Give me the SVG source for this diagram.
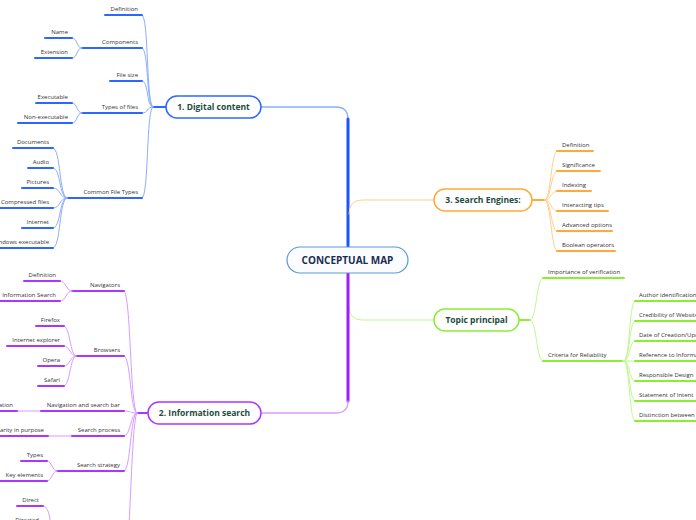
<svg xmlns="http://www.w3.org/2000/svg" width="696" height="520" viewBox="0 0 696 520">
<style>
.t{font-family:"Open Sans","Noto Sans","DejaVu Sans",sans-serif;font-size:6px;fill:#333}
.e{text-anchor:end}
.n{font-family:"Open Sans","Noto Sans","DejaVu Sans",sans-serif;font-size:8.5px;font-weight:bold;fill:#1d4b3e;text-anchor:middle}
.m{font-family:"Open Sans","Noto Sans","DejaVu Sans",sans-serif;font-size:10px;font-weight:bold;fill:#1b2b4d;text-anchor:middle}
path,line{fill:none;stroke-linecap:round}
.ub{stroke:#2c68ff;stroke-width:2}
.cb{stroke:#8cadff;stroke-width:1}
.up{stroke:#ad36ff;stroke-width:2}
.cp{stroke:#d79cff;stroke-width:1}
.uo{stroke:#ffaa38;stroke-width:2}
.co{stroke:#ffcf8a;stroke-width:1}
.ug{stroke:#8aee33;stroke-width:2}
.cg{stroke:#c2f790;stroke-width:1}
</style>
<rect width="696" height="520" fill="#fff"/>
<g id="connectors">
<path d="M261 107 H336 Q348 107 348 119" stroke="#8cadff" stroke-width="1.3"/>
<path d="M348 119 V247" stroke="#1a55ff" stroke-width="3"/>
<path d="M349 214 Q349 200 362 200 H434" class="co" stroke-width="1.3"/>
<path d="M349 306 Q349 320 362 320 H434" class="cg" stroke-width="1.3"/>
<path d="M348 273 V401" stroke="#a21cff" stroke-width="3"/>
<path d="M348 401 Q348 413 336 413 H261" stroke="#d79cff" stroke-width="1.3"/>
<path d="M153 107 H166" class="ub" stroke-width="2.5"/>
<path d="M142 15 C149 15 146 107 153 107" class="cb"/>
<path d="M142 48 C149 48 146 107 153 107" class="cb"/>
<path d="M142 81 C149 81 146 107 153 107" class="cb"/>
<path d="M142 113 C149 113 146 107 153 107" class="cb"/>
<path d="M142 198 C149 198 146 107 153 107" class="cb"/>
<path d="M82 48 H95" class="ub" stroke-width="1.5"/>
<path d="M72 38 C78 38 76 48 82 48" class="cb"/>
<path d="M72 58 C78 58 76 48 82 48" class="cb"/>
<path d="M82 113 H96" class="ub" stroke-width="1.5"/>
<path d="M72 103 C78 103 76 113 82 113" class="cb"/>
<path d="M72 123 C78 123 76 113 82 113" class="cb"/>
<path d="M67 198 H77" class="ub" stroke-width="1.5"/>
<path d="M53 148 C61 148 59 198 67 198" class="cb"/>
<path d="M53 168 C61 168 59 198 67 198" class="cb"/>
<path d="M53 188 C61 188 59 198 67 198" class="cb"/>
<path d="M53 208 C61 208 59 198 67 198" class="cb"/>
<path d="M53 228 C61 228 59 198 67 198" class="cb"/>
<path d="M53 248 C61 248 59 198 67 198" class="cb"/>
<path d="M137 413 H148" class="up" stroke-width="2.5"/>
<path d="M124 291 C131 291 130 413 137 413" class="cp"/>
<path d="M124 356 C131 356 130 413 137 413" class="cp"/>
<path d="M124 411 C131 411 130 413 137 413" class="cp"/>
<path d="M124 436 C131 436 130 413 137 413" class="cp"/>
<path d="M124 471 C131 471 130 413 137 413" class="cp"/>
<path d="M124 575 C130 575 131 413 137 413" class="cp"/>
<path d="M72 291 H83" class="up" stroke-width="1.5"/>
<path d="M60 281 C66 281 66 291 72 291" class="cp"/>
<path d="M60 301 C66 301 66 291 72 291" class="cp"/>
<path d="M76 356 H88" class="up" stroke-width="1.5"/>
<path d="M64 326 C70 326 70 356 76 356" class="cp"/>
<path d="M64 346 C70 346 70 356 76 356" class="cp"/>
<path d="M64 366 C70 366 70 356 76 356" class="cp"/>
<path d="M64 386 C70 386 70 356 76 356" class="cp"/>
<path d="M17 411 H41" class="cp"/>
<path d="M48 436 H72" class="cp"/>
<path d="M57 471 H71" class="up" stroke-width="1.5"/>
<path d="M47 461 C52 461 52 471 57 471" class="cp"/>
<path d="M47 481 C52 481 52 471 57 471" class="cp"/>
<path d="M43 506 C49 506 50 518 53 540" class="cp"/>
<path d="M532 200 H545" class="uo" stroke-width="2.5"/>
<path d="M545 200 C551 200 551 151 557 151" class="co"/>
<path d="M545 200 C551 200 551 171 557 171" class="co"/>
<path d="M545 200 C551 200 551 191 557 191" class="co"/>
<path d="M545 200 C551 200 551 211 557 211" class="co"/>
<path d="M545 200 C551 200 551 231 557 231" class="co"/>
<path d="M545 200 C551 200 551 251 557 251" class="co"/>
<path d="M519 320 H530" class="ug" stroke-width="2.5"/>
<path d="M530 320 C537 320 536 278 543 278" class="cg"/>
<path d="M530 320 C537 320 536 361 543 361" class="cg"/>
<path d="M624 361 C630 361 629 301 635 301" class="cg"/>
<path d="M624 361 C630 361 629 321 635 321" class="cg"/>
<path d="M624 361 C630 361 629 341 635 341" class="cg"/>
<path d="M624 361 H635" class="cg"/>
<path d="M624 361 C630 361 629 381 635 381" class="cg"/>
<path d="M624 361 C630 361 629 401 635 401" class="cg"/>
<path d="M624 361 C630 361 629 421 635 421" class="cg"/>
</g>
<g id="center">
<rect x="287" y="247" width="121" height="26" rx="13" fill="#fafcff" stroke="#5b9bd5" stroke-width="1.2"/>
<text class="m" x="347.5" y="264">CONCEPTUAL MAP</text>
</g>
<g id="digital-content">
<rect x="166" y="96" width="95" height="22" rx="11" fill="#fff" stroke="#2c68ff" stroke-width="1.5"/>
<text class="n" x="213.5" y="110">1. Digital content</text>
</g>
<g id="dc-children">
<line class="ub" x1="105" y1="15" x2="142" y2="15"/><text class="t e" x="138" y="11">Definition</text>
<line class="ub" x1="95" y1="48" x2="142" y2="48"/><text class="t e" x="138" y="44">Components</text>
<line class="ub" x1="45" y1="38" x2="72" y2="38"/><text class="t e" x="68" y="34">Name</text>
<line class="ub" x1="35" y1="58" x2="72" y2="58"/><text class="t e" x="68" y="54">Extension</text>
<line class="ub" x1="110" y1="81" x2="142" y2="81"/><text class="t e" x="138" y="77">File size</text>
<line class="ub" x1="96" y1="113" x2="142" y2="113"/><text class="t e" x="138" y="109">Types of files</text>
<line class="ub" x1="36" y1="103" x2="72" y2="103"/><text class="t e" x="68" y="99">Executable</text>
<line class="ub" x1="18" y1="123" x2="72" y2="123"/><text class="t e" x="68" y="119">Non-executable</text>
<line class="ub" x1="77" y1="198" x2="142" y2="198"/><text class="t e" x="138" y="194">Common File Types</text>
<line class="ub" x1="13" y1="148" x2="53" y2="148"/><text class="t e" x="49" y="144">Documents</text>
<line class="ub" x1="28" y1="168" x2="53" y2="168"/><text class="t e" x="49" y="164">Audio</text>
<line class="ub" x1="22" y1="188" x2="53" y2="188"/><text class="t e" x="49" y="184">Pictures</text>
<line class="ub" x1="0" y1="208" x2="53" y2="208"/><text class="t e" x="49" y="204">Compressed files</text>
<line class="ub" x1="22" y1="228" x2="53" y2="228"/><text class="t e" x="49" y="224">Internet</text>
<line class="ub" x1="0" y1="248" x2="53" y2="248"/><text class="t e" x="49" y="244">Windows executable</text>
</g>
<g id="information-search">
<rect x="148" y="402" width="113" height="22" rx="11" fill="#fff" stroke="#ad36ff" stroke-width="1.5"/>
<text class="n" x="204.5" y="416">2. Information search</text>
</g>
<g id="is-children">
<line class="up" x1="83" y1="291" x2="124" y2="291"/><text class="t e" x="120" y="287">Navigators</text>
<line class="up" x1="24" y1="281" x2="60" y2="281"/><text class="t e" x="56" y="277">Definition</text>
<line class="up" x1="0" y1="301" x2="60" y2="301"/><text class="t e" x="56" y="297">Information Search</text>
<line class="up" x1="88" y1="356" x2="124" y2="356"/><text class="t e" x="120" y="352">Browsers</text>
<line class="up" x1="36" y1="326" x2="64" y2="326"/><text class="t e" x="60" y="322">Firefox</text>
<line class="up" x1="7" y1="346" x2="64" y2="346"/><text class="t e" x="60" y="342">Internet explorer</text>
<line class="up" x1="38" y1="366" x2="64" y2="366"/><text class="t e" x="60" y="362">Opera</text>
<line class="up" x1="38" y1="386" x2="64" y2="386"/><text class="t e" x="60" y="382">Safari</text>
<line class="up" x1="41" y1="411" x2="124" y2="411"/><text class="t e" x="120" y="407">Navigation and search bar</text>
<line class="up" x1="0" y1="411" x2="17" y2="411"/><text class="t e" x="13" y="407">ation</text>
<line class="up" x1="72" y1="436" x2="124" y2="436"/><text class="t e" x="120" y="432">Search process</text>
<line class="up" x1="0" y1="436" x2="48" y2="436"/><text class="t e" x="44" y="432">Clarity in purpose</text>
<line class="up" x1="71" y1="471" x2="124" y2="471"/><text class="t e" x="120" y="467">Search strategy</text>
<line class="up" x1="21" y1="461" x2="47" y2="461"/><text class="t e" x="43" y="457">Types</text>
<line class="up" x1="0" y1="481" x2="47" y2="481"/><text class="t e" x="43" y="477">Key elements</text>
<line class="up" x1="17" y1="506" x2="43" y2="506"/><text class="t e" x="39" y="502">Direct</text>
<text class="t e" x="39" y="522">Directed</text>
</g>
<g id="search-engines">
<rect x="434" y="189" width="98" height="22" rx="11" fill="#fff" stroke="#ffaa38" stroke-width="1.5"/>
<text class="n" x="483" y="203">3. Search Engines:</text>
</g>
<g id="se-children">
<line class="uo" x1="557" y1="151" x2="593" y2="151"/><text class="t" x="562" y="147">Definition</text>
<line class="uo" x1="557" y1="171" x2="600" y2="171"/><text class="t" x="562" y="167">Significance</text>
<line class="uo" x1="557" y1="191" x2="591" y2="191"/><text class="t" x="562" y="187">Indexing</text>
<line class="uo" x1="557" y1="211" x2="608" y2="211"/><text class="t" x="562" y="207">Interacting tips</text>
<line class="uo" x1="557" y1="231" x2="612" y2="231"/><text class="t" x="562" y="227">Advanced options</text>
<line class="uo" x1="557" y1="251" x2="615" y2="251"/><text class="t" x="562" y="247">Boolean operators</text>
</g>
<g id="topic-principal">
<rect x="434" y="309" width="85" height="22" rx="11" fill="#fff" stroke="#8aee33" stroke-width="1.5"/>
<text class="n" x="476.5" y="323">Topic principal</text>
</g>
<g id="tp-children">
<line class="ug" x1="543" y1="278" x2="624" y2="278"/><text class="t" x="548" y="274">Importance of verification</text>
<line class="ug" x1="543" y1="361" x2="622" y2="361"/><text class="t" x="548" y="357">Criteria for Reliability</text>
<line class="ug" x1="635" y1="301" x2="700" y2="301"/><text class="t" x="639" y="297">Author identification</text>
<line class="ug" x1="635" y1="321" x2="700" y2="321"/><text class="t" x="639" y="317">Credibility of Website</text>
<line class="ug" x1="635" y1="341" x2="700" y2="341"/><text class="t" x="639" y="337">Date of Creation/Update</text>
<line class="ug" x1="635" y1="361" x2="700" y2="361"/><text class="t" x="639" y="357">Reference to Information</text>
<line class="ug" x1="635" y1="381" x2="700" y2="381"/><text class="t" x="639" y="377">Responsible Design</text>
<line class="ug" x1="635" y1="401" x2="700" y2="401"/><text class="t" x="639" y="397">Statement of Intent</text>
<line class="ug" x1="635" y1="421" x2="700" y2="421"/><text class="t" x="639" y="417">Distinction between</text>
</g>
</svg>
